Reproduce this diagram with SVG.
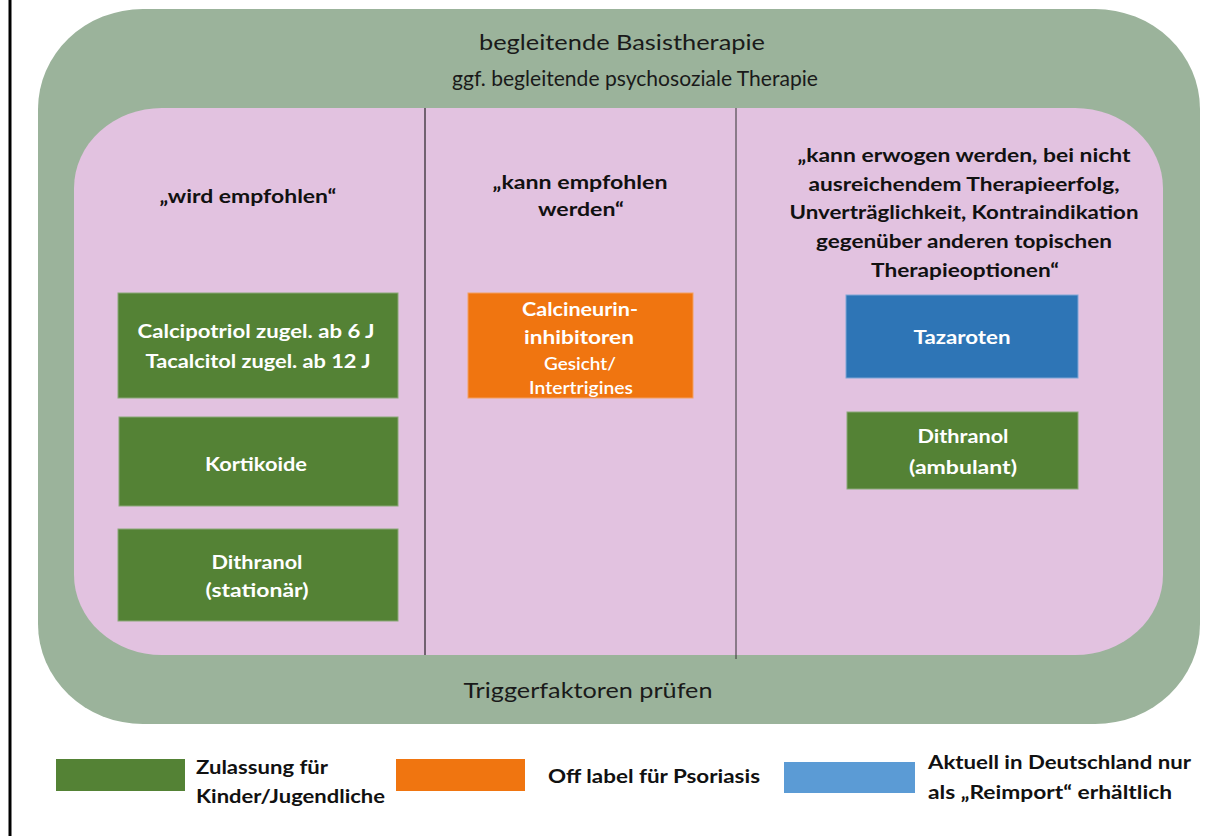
<svg xmlns="http://www.w3.org/2000/svg" width="1217" height="836" viewBox="0 0 1217 836">
<style>
text{font-family:Lato,"Open Sans","Liberation Sans",sans-serif;text-anchor:middle}
.h{font-size:22px;fill:#1a1a1a}
.b{font-size:19px;font-weight:bold;fill:#111}
.w{font-size:19px;font-weight:bold;fill:#fff}
.ws{font-size:17px;font-weight:600;fill:#fff}
.l{font-size:18px;font-weight:bold;fill:#111;text-anchor:start}
.g{fill:#548235;stroke:#8aa879;stroke-width:1}
.o{fill:#f07510;stroke:#f4a060;stroke-width:1}
.bl{fill:#2e75b6;stroke:#7fa6d6;stroke-width:1}
</style>
<rect width="1217" height="836" fill="#fff"/>
<line x1="10" y1="0" x2="10" y2="836" stroke="#000" stroke-width="3"/>
<g id="outer">
<rect x="38" y="9" width="1162" height="715" rx="105" ry="100" fill="#9bb39b"/>
<text class="h" x="622" y="50" textLength="286" lengthAdjust="spacingAndGlyphs">begleitende Basistherapie</text>
<text class="h" x="635" y="86" textLength="366" lengthAdjust="spacingAndGlyphs">ggf. begleitende psychosoziale Therapie</text>
<text class="h" x="588" y="698" textLength="249" lengthAdjust="spacingAndGlyphs">Triggerfaktoren prüfen</text>
</g>
<g id="inner">
<rect x="74" y="108" width="1089" height="547" rx="88" ry="80" fill="#e2c2e0"/>
</g>
<g id="connectors">
<line x1="425" y1="108" x2="425" y2="655" stroke="#000" stroke-width="1"/>
<line x1="736" y1="108" x2="736" y2="659" stroke="#333" stroke-width="1"/>
</g>
<g id="col1-head"><text class="b" x="248" y="203" textLength="177" lengthAdjust="spacingAndGlyphs">„wird empfohlen“</text></g>
<g id="col2-head">
<text class="b" x="580" y="189" textLength="175" lengthAdjust="spacingAndGlyphs">„kann empfohlen</text>
<text class="b" x="581" y="216" textLength="86" lengthAdjust="spacingAndGlyphs">werden“</text>
</g>
<g id="col3-head">
<text class="b" x="964" y="162" textLength="333" lengthAdjust="spacingAndGlyphs">„kann erwogen werden, bei nicht</text>
<text class="b" x="964" y="191" textLength="311" lengthAdjust="spacingAndGlyphs">ausreichendem Therapieerfolg,</text>
<text class="b" x="964" y="219" textLength="349" lengthAdjust="spacingAndGlyphs">Unverträglichkeit, Kontraindikation</text>
<text class="b" x="964" y="248" textLength="296" lengthAdjust="spacingAndGlyphs">gegenüber anderen topischen</text>
<text class="b" x="965" y="277" textLength="188" lengthAdjust="spacingAndGlyphs">Therapieoptionen“</text>
</g>
<g id="calcipotriol">
<rect class="g" x="118" y="293" width="280" height="105"/>
<text class="w" x="256" y="338" textLength="237" lengthAdjust="spacingAndGlyphs">Calcipotriol zugel. ab 6 J</text>
<text class="w" x="258" y="368" textLength="225" lengthAdjust="spacingAndGlyphs">Tacalcitol zugel. ab 12 J</text>
</g>
<g id="kortikoide">
<rect class="g" x="119" y="417" width="279" height="89"/>
<text class="w" x="256" y="471" textLength="102" lengthAdjust="spacingAndGlyphs">Kortikoide</text>
</g>
<g id="dithranol-stationaer">
<rect class="g" x="118" y="529" width="280" height="92"/>
<text class="w" x="257" y="569" textLength="91" lengthAdjust="spacingAndGlyphs">Dithranol</text>
<text class="w" x="257" y="597" textLength="103" lengthAdjust="spacingAndGlyphs">(stationär)</text>
</g>
<g id="calcineurin">
<rect class="o" x="468" y="293" width="225" height="105"/>
<text class="w" x="580" y="316" textLength="116" lengthAdjust="spacingAndGlyphs">Calcineurin-</text>
<text class="w" x="579" y="344" textLength="110" lengthAdjust="spacingAndGlyphs">inhibitoren</text>
<text class="ws" x="580" y="370" textLength="72" lengthAdjust="spacingAndGlyphs">Gesicht/</text>
<text class="ws" x="581" y="394" textLength="104" lengthAdjust="spacingAndGlyphs">Intertrigines</text>
</g>
<g id="tazaroten">
<rect class="bl" x="846" y="295" width="232" height="83"/>
<text class="w" x="962" y="344" textLength="97" lengthAdjust="spacingAndGlyphs">Tazaroten</text>
</g>
<g id="dithranol-ambulant">
<rect class="g" x="847" y="412" width="231" height="77"/>
<text class="w" x="963" y="443" textLength="91" lengthAdjust="spacingAndGlyphs">Dithranol</text>
<text class="w" x="963" y="474" textLength="108" lengthAdjust="spacingAndGlyphs">(ambulant)</text>
</g>
<g id="legend">
<rect x="56" y="759" width="129" height="32" fill="#548235"/>
<text class="l" x="196" y="774" textLength="132" lengthAdjust="spacingAndGlyphs">Zulassung für</text>
<text class="l" x="196" y="803" textLength="189" lengthAdjust="spacingAndGlyphs">Kinder/Jugendliche</text>
<rect x="396" y="759" width="129" height="32" fill="#f07510"/>
<text class="l" x="548" y="783" textLength="212" lengthAdjust="spacingAndGlyphs">Off label für Psoriasis</text>
<rect x="784" y="762" width="131" height="31" fill="#5b9bd5"/>
<text class="l" x="928" y="769" textLength="263" lengthAdjust="spacingAndGlyphs">Aktuell in Deutschland nur</text>
<text class="l" x="928" y="799" textLength="244" lengthAdjust="spacingAndGlyphs">als „Reimport“ erhältlich</text>
</g>
</svg>
